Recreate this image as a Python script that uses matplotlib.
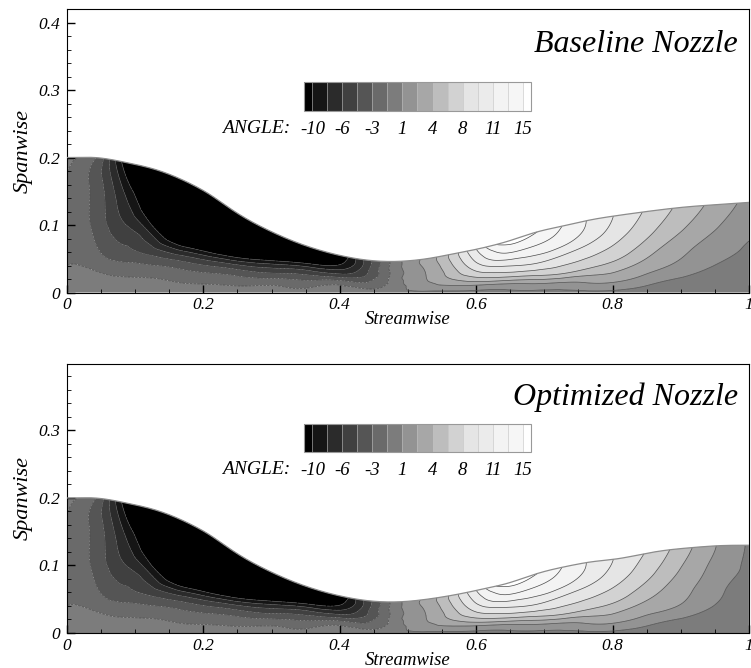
import numpy as np
import matplotlib
matplotlib.use("Agg")
import matplotlib.pyplot as plt
import matplotlib.tri as mtri
from matplotlib.ticker import MultipleLocator, FormatStrFormatter

plt.rcParams["font.family"] = "Liberation Serif"
plt.rcParams["font.style"] = "italic"

# * - - - Stations along the nozzle and fractions of the local half height
x_stations = [0.00, 0.04, 0.08, 0.12, 0.16, 0.20, 0.24, 0.28, 0.32, 0.36, 0.40, 0.44, 0.48,
              0.52, 0.56, 0.60, 0.64, 0.68, 0.72, 0.76, 0.80, 0.85, 0.90, 0.95, 1.00]
eta = [0.0, 0.15, 0.3, 0.5, 0.75, 1.0]

# * - - - Wall height (spanwise) at each station
wall_base = [0.200, 0.200, 0.194, 0.185, 0.171, 0.151, 0.124, 0.100, 0.081, 0.066, 0.055, 0.048, 0.046,
             0.049, 0.056, 0.064, 0.074, 0.087, 0.097, 0.106, 0.113, 0.120, 0.126, 0.130, 0.1335]
wall_opt = [0.200, 0.200, 0.194, 0.185, 0.171, 0.151, 0.124, 0.100, 0.081, 0.066, 0.055, 0.048, 0.046,
            0.049, 0.055, 0.063, 0.072, 0.085, 0.096, 0.104, 0.109, 0.118, 0.125, 0.129, 0.130]

# * - - - Flow angle, one row per station, columns follow eta
angle_base = [
    [0.0, -0.8, -1.4, -1.7, -1.5, -0.6],
    [-0.1, -0.95, -2.4, -3.2, -3.3, -2.5],
    [-0.2, -1.4, -3.9, -5.9, -7.6, -10.0],
    [-0.2, -1.5, -4.6, -8.5, -13.0, -17.0],
    [-0.2, -1.8, -5.3, -13.0, -20.0, -24.0],
    [-0.2, -2.0, -5.6, -14.0, -22.0, -26.0],
    [-0.2, -1.9, -5.0, -13.0, -22.0, -28.0],
    [-0.2, -1.7, -4.6, -10.5, -20.0, -30.0],
    [-0.2, -1.5, -3.7, -8.0, -16.0, -26.0],
    [-0.2, -1.4, -3.2, -6.8, -12.5, -18.0],
    [-0.2, -0.6, -2.4, -6.4, -10.0, -12.0],
    [-0.3, -1.3, -2.8, -4.3, -5.2, -5.5],
    [-0.1, -0.2, -0.3, -0.3, -0.3, -0.3],
    [0.3, 1.6, 2.0, 2.2, 2.4, 2.6],
    [0.3, 2.0, 3.6, 4.8, 5.6, 6.1],
    [0.3, 2.1, 5.2, 7.9, 10.0, 11.4],
    [0.3, 2.0, 5.9, 9.3, 12.8, 15.8],
    [0.3, 2.5, 6.4, 9.9, 13.0, 15.4],
    [0.3, 2.5, 6.5, 9.1, 12.2, 13.5],
    [0.3, 2.7, 5.6, 8.1, 10.6, 11.5],
    [0.3, 2.8, 4.8, 7.0, 8.8, 9.7],
    [0.2, 1.5, 3.2, 4.9, 6.6, 7.6],
    [0.1, 0.5, 1.9, 3.0, 4.5, 5.6],
    [0.0, 0.3, 0.65, 1.5, 2.7, 3.7],
    [0.0, 0.15, 0.35, 0.6, 1.2, 1.9],
]
angle_opt = [
    [0.0, -0.8, -1.4, -1.7, -1.5, -0.6],
    [-0.1, -0.95, -2.4, -3.2, -3.3, -2.5],
    [-0.2, -1.4, -3.9, -5.9, -7.6, -10.0],
    [-0.2, -1.5, -4.6, -8.5, -13.0, -17.0],
    [-0.2, -1.8, -5.3, -13.0, -20.0, -24.0],
    [-0.2, -2.0, -5.6, -14.0, -22.0, -26.0],
    [-0.2, -1.9, -5.0, -13.0, -22.0, -28.0],
    [-0.2, -1.7, -4.6, -10.5, -20.0, -30.0],
    [-0.2, -1.5, -3.7, -8.0, -16.0, -26.0],
    [-0.2, -1.4, -3.2, -6.8, -12.5, -18.0],
    [-0.2, -0.6, -2.4, -6.4, -10.0, -12.0],
    [-0.3, -1.3, -2.8, -4.3, -5.2, -5.5],
    [-0.1, -0.2, -0.3, -0.3, -0.3, -0.3],
    [0.3, 1.6, 2.0, 2.2, 2.4, 2.6],
    [0.3, 2.0, 3.6, 4.8, 5.6, 6.1],
    [0.3, 2.1, 5.2, 7.9, 10.0, 11.4],
    [0.3, 2.0, 5.9, 9.3, 12.8, 15.8],
    [0.3, 2.5, 6.4, 9.9, 13.0, 15.4],
    [0.3, 2.5, 6.5, 9.1, 12.2, 13.5],
    [0.3, 2.7, 5.6, 8.1, 10.6, 11.5],
    [0.3, 2.8, 4.8, 7.0, 8.8, 9.7],
    [0.2, 1.5, 3.3, 5.0, 6.7, 7.7],
    [0.1, 0.5, 2.2, 3.2, 4.2, 5.2],
    [0.0, 0.3, 0.6, 1.2, 2.0, 2.6],
    [0.0, 0.1, 0.2, 0.3, 0.4, 0.5],
]

# * - - - Contour levels and legend labels
levels = np.linspace(-10, 15, 15)
level_labels = ["-10", "-6", "-3", "1", "4", "8", "11", "15"]
band_colors = ["#000000",
               "#151515", "#2b2b2b", "#404040", "#555555", "#6a6a6a", "#7c7c7c", "#939393",
               "#a7a7a7", "#bdbdbd", "#d2d2d2", "#e5e5e5", "#ebebeb", "#f3f3f3", "#f6f6f6",
               "#ffffff"]


def draw_panel(ax, wall, angle, title, title_y, ytop, cbar_rect, label_y):
    nx, ne = len(x_stations), len(eta)
    X, E = np.meshgrid(x_stations, eta, indexing="ij")
    H = np.repeat(np.array(wall)[:, None], ne, axis=1)
    Z = np.array(angle)

    # triangles of the structured (station, eta) grid
    tris = []
    for i in range(nx - 1):
        for j in range(ne - 1):
            a = i * ne + j
            b = (i + 1) * ne + j
            tris.append([a, b, b + 1])
            tris.append([a, b + 1, a + 1])
    tri = mtri.Triangulation(X.ravel(), E.ravel(), tris)
    refiner = mtri.UniformTriRefiner(tri)
    interp_z = mtri.CubicTriInterpolator(tri, Z.ravel(), kind="min_E")
    interp_h = mtri.CubicTriInterpolator(tri, H.ravel(), kind="min_E")
    tri_f, z_f = refiner.refine_field(Z.ravel(), triinterpolator=interp_z, subdiv=4)
    _, h_f = refiner.refine_field(H.ravel(), triinterpolator=interp_h, subdiv=4)
    phys = mtri.Triangulation(tri_f.x, tri_f.y * h_f, tri_f.triangles)

    cf = ax.tricontourf(phys, z_f, levels=levels, colors=band_colors, extend="both",
                        antialiased=True)
    ax.tricontour(phys, z_f, levels=levels, colors="#4a4a4a", linewidths=0.5)

    # wall line
    top = np.isclose(tri_f.y, 1.0)
    order = np.argsort(tri_f.x[top])
    ax.plot(tri_f.x[top][order], h_f[top][order], color="0.55", lw=0.9, zorder=3)

    ax.set_xlim(0, 1)
    ax.set_ylim(0, ytop)
    ax.xaxis.set_major_locator(MultipleLocator(0.2))
    ax.xaxis.set_minor_locator(MultipleLocator(0.05))
    ax.yaxis.set_major_locator(MultipleLocator(0.1))
    ax.yaxis.set_minor_locator(MultipleLocator(0.02))
    ax.xaxis.set_major_formatter(FormatStrFormatter("%g"))
    ax.yaxis.set_major_formatter(FormatStrFormatter("%g"))
    ax.tick_params(which="both", direction="in", top=False, right=False, labelsize=12.5)
    ax.tick_params(which="major", length=6, width=1)
    ax.tick_params(which="minor", length=3, width=0.6)
    ax.tick_params(axis="y", pad=5)
    ax.set_xlabel("Streamwise", fontsize=13.5, labelpad=-1.5)
    ax.set_ylabel("Spanwise", fontsize=16, labelpad=4)

    ax.text(0.984, title_y, title, transform=ax.transAxes, ha="right", va="center",
            fontsize=23)

    # legend bar
    cax = ax.inset_axes(cbar_rect)
    cbar = plt.colorbar(cf, cax=cax, orientation="horizontal", extendrect=True,
                        extendfrac=0.04, drawedges=True)
    cbar.set_ticks(levels[::2])
    cbar.set_ticklabels(level_labels)
    cax.tick_params(length=0, pad=7, labelsize=13.5)
    cbar.outline.set_edgecolor("0.6")
    cbar.outline.set_linewidth(0.8)
    cbar.dividers.set_color("0.75")
    cbar.dividers.set_linewidth(0.4)
    ax.text(0.327, label_y, "ANGLE:", transform=ax.transAxes, ha="right", va="center",
            fontsize=14)


fig = plt.figure(figsize=(7.51, 6.68), dpi=100)
ax1 = fig.add_axes([0.0892, 0.5621, 0.908, 0.4244])
ax2 = fig.add_axes([0.0892, 0.0524, 0.908, 0.4027])

draw_panel(ax1, wall_base, angle_base, "Baseline Nozzle", 0.875, 0.42,
           [0.3475, 0.640, 0.333, 0.1025], 0.580)
draw_panel(ax2, wall_opt, angle_opt, "Optimized Nozzle", 0.877, 0.3985,
           [0.3475, 0.673, 0.333, 0.104], 0.606)

fig.savefig("out.png", dpi=100)
